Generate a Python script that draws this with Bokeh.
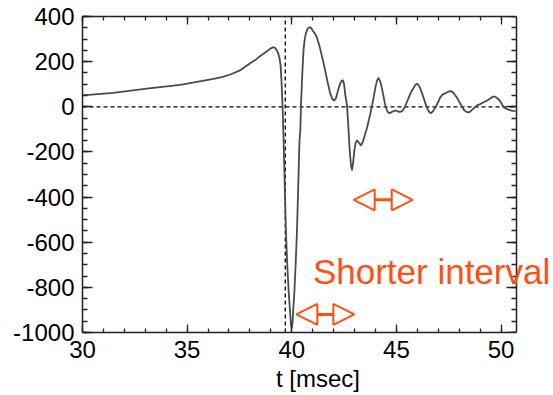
from bokeh.plotting import figure
from bokeh.embed import file_html
from bokeh.resources import INLINE
from bokeh.models import (Arrow, NormalHead, Label, LinearAxis, Range1d,
                          SingleIntervalTicker, CustomJSTickFormatter, PrintfTickFormatter)

# ---- data ----
t_ms = [29.88, 31.47, 33.07, 34.67, 36.26, 36.70, 37.06, 37.50, 37.86, 38.10, 38.30, 38.45,
        38.65, 38.80, 38.90, 39.00, 39.13, 39.20, 39.29, 39.36, 39.42, 39.47, 39.50, 39.53,
        39.56, 39.61, 39.72, 39.78, 39.85, 39.92, 39.96, 40.00, 40.04, 40.07, 40.13, 40.19,
        40.25, 40.31, 40.37, 40.41, 40.44, 40.50, 40.56, 40.62, 40.67, 40.75, 40.85, 40.93,
        41.00, 41.10, 41.20, 41.35, 41.53, 41.70, 41.84, 41.95, 42.03, 42.12, 42.19, 42.30,
        42.40, 42.45, 42.50, 42.55, 42.64, 42.70, 42.77, 42.83, 42.88, 42.93, 42.99, 43.05,
        43.12, 43.20, 43.31, 43.40, 43.51, 43.60, 43.68, 43.76, 43.84, 43.92, 44.00, 44.08,
        44.15, 44.22, 44.29, 44.36, 44.45, 44.55, 44.62, 44.69, 44.80, 44.96, 45.10, 45.20,
        45.28, 45.40, 45.50, 45.60, 45.70, 45.80, 45.90, 46.00, 46.10, 46.18, 46.30, 46.39,
        46.50, 46.58, 46.66, 46.76, 46.87, 47.00, 47.10, 47.22, 47.34, 47.50, 47.63, 47.72,
        47.82, 47.95, 48.06, 48.15, 48.25, 48.35, 48.46, 48.60, 48.73, 48.86, 49.00, 49.17,
        49.34, 49.50, 49.60, 49.69, 49.80, 49.94, 50.05, 50.13, 50.25, 50.37, 50.50, 50.69]
signal = [50, 62, 80, 97, 124, 133, 143, 160, 183, 198, 210, 222,
          235, 245, 252, 259, 264, 261, 249, 235, 213, 180, 131, 70,
          6, -149, -548, -690, -814, -910, -960, -980, -955, -900, -814, -690,
          -548, -350, -149, -105, 6, 140, 249, 300, 323, 345, 353, 348,
          338, 325, 308, 260, 190, 115, 58, 33, 28, 40, 65, 100,
          117, 117, 100, 58, 6, -80, -194, -260, -279, -250, -194, -160,
          -149, -158, -171, -155, -120, -92, -61, -28, 6, 45, 87, 118,
          127, 115, 90, 58, 15, -16, -26, -28, -22, -16, -22, -22,
          -19, -2, 20, 43, 65, 80, 96, 102, 90, 72, 40, 13,
          -12, -24, -28, -18, -2, 22, 43, 55, 60, 68, 69, 62,
          50, 32, 13, -2, -16, -23, -25, -15, -4, 6, 12, 20,
          28, 38, 44, 46, 40, 28, 10, -2, -8, -13, -17, -19]

x_ticks_interval = 5
y_ticks_interval = 200
label_text = "Shorter interval"
x_label = "t [msec]"

T_MIN, T_MAX = 30.0, 50.74          # axis box limits
Y_MIN, Y_MAX = -1000, 400
T_MARKER = 39.69                     # vertical dashed marker

ORANGE = "#FF5014"
FONT = "Liberation Sans"
TICK_FONT = "24px"

# frame spans to the right edge of the page so the label is not clipped;
# the right-hand box edge is a fixed-location axis at T_MAX
LEFT = 82
PX_PER_UNIT = (516 - LEFT) / (T_MAX - T_MIN)
X_END = T_MIN + (553 - LEFT) / PX_PER_UNIT

p = figure(width=553, height=395, output_backend="svg", toolbar_location=None,
           x_range=Range1d(T_MIN, X_END), y_range=Range1d(Y_MIN, Y_MAX),
           min_border_left=LEFT, min_border_right=0, min_border_top=16,
           min_border_bottom=63)
p.xgrid.visible = False
p.ygrid.visible = False
p.outline_line_color = None
p.background_fill_color = "white"
p.border_fill_color = "white"

# dashed reference lines
p.line([T_MIN, T_MAX], [0, 0], line_color="black", line_dash="4 3", line_width=1.3)
p.line([T_MARKER, T_MARKER], [Y_MIN, Y_MAX], line_color="black", line_dash="4 3", line_width=1.3)

p.line(t_ms, signal, line_color="#4a4a4a", line_width=1.8, line_join="round")

def style_common(ax):
    ax.major_tick_out = 0
    ax.minor_tick_out = 0
    ax.axis_line_color = "#222222"
    ax.axis_line_width = 1.5
    ax.major_tick_line_color = "#222222"
    ax.minor_tick_line_color = "#222222"
    ax.major_tick_line_width = 1.3
    ax.minor_tick_line_width = 1.3

def style_x(ax):
    ax.ticker = SingleIntervalTicker(interval=x_ticks_interval, num_minor_ticks=5)
    ax.major_tick_in = 8
    ax.minor_tick_in = 4
    ax.bounds = (T_MIN, T_MAX)
    style_common(ax)

def style_y(ax):
    ax.ticker = SingleIntervalTicker(interval=y_ticks_interval, num_minor_ticks=4)
    ax.major_tick_in = 10
    ax.minor_tick_in = 5
    style_common(ax)

xb = p.xaxis[0]
style_x(xb)
xb.formatter = PrintfTickFormatter(format="%d")
xb.major_label_text_font = FONT
xb.major_label_text_font_size = TICK_FONT
xb.major_label_text_color = "black"
xb.major_label_standoff = 8
xb.axis_label = x_label
xb.axis_label_text_font = FONT
xb.axis_label_text_font_size = TICK_FONT
xb.axis_label_text_font_style = "normal"
xb.axis_label_text_color = "black"
xb.axis_label_standoff = 4

yl = p.yaxis[0]
style_y(yl)
yl.formatter = PrintfTickFormatter(format="%d")
yl.major_label_text_font = FONT
yl.major_label_text_font_size = TICK_FONT
yl.major_label_text_color = "black"
yl.major_label_standoff = 8

xt = LinearAxis(formatter=CustomJSTickFormatter(code="return ''"),
                major_label_standoff=0, major_label_text_font_size="1px")
style_x(xt)
p.add_layout(xt, "above")
yr = LinearAxis(formatter=CustomJSTickFormatter(code="return ''"),
                major_label_standoff=0, major_label_text_font_size="1px",
                fixed_location=T_MAX)
style_y(yr)
p.add_layout(yr, "right")

# annotations
def dbl_arrow(x0, x1, y):
    return Arrow(start=NormalHead(size=21, fill_color="white", line_color=ORANGE, line_width=2),
                 end=NormalHead(size=21, fill_color="white", line_color=ORANGE, line_width=2),
                 x_start=x0, x_end=x1, y_start=y, y_end=y,
                 line_color=ORANGE, line_width=3)

p.add_layout(dbl_arrow(42.96, 45.78, -412))
p.add_layout(dbl_arrow(40.22, 42.99, -920))

p.add_layout(Label(x=41.01, y=-728, text=label_text, text_font=FONT,
                   text_font_size="35px", text_color=ORANGE,
                   text_baseline="alphabetic"))

open("out.html", "w").write(file_html(p, INLINE))
